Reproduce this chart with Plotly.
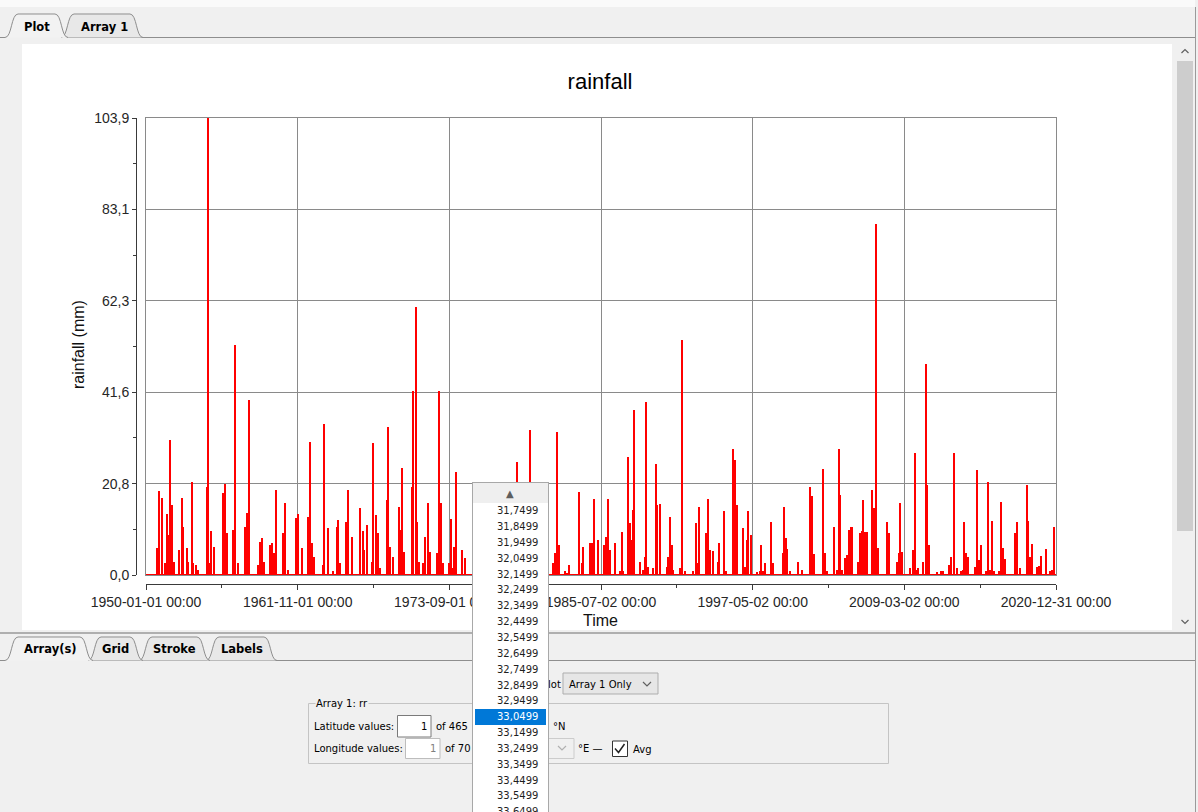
import pandas as pd
import plotly.graph_objects as go

# ---------------------------------------------------------------
# Daily rainfall peaks (decimal year, mm) for the selected grid cell
# ---------------------------------------------------------------
peak_year = [
    1950.83, 1951.01, 1951.22, 1951.48, 1951.62, 1951.74, 1951.87, 1952.03, 1952.18, 1952.60,
    1952.79, 1952.91, 1953.18, 1953.30, 1953.59, 1953.69, 1953.90, 1954.08, 1954.74, 1954.81,
    1954.99, 1955.07, 1955.31, 1956.03, 1956.19, 1956.34, 1956.81, 1956.97, 1957.20, 1957.72,
    1957.86, 1958.01, 1958.76, 1958.89, 1959.05, 1959.21, 1959.67, 1959.83, 1959.99, 1960.12,
    1960.67, 1960.85, 1961.10, 1961.70, 1961.88, 1962.15, 1962.66, 1962.80, 1962.93, 1963.11,
    1963.79, 1963.91, 1964.18, 1964.61, 1964.88, 1965.00, 1965.14, 1965.60, 1965.76, 1966.10,
    1966.70, 1966.91, 1967.01, 1967.22, 1967.61, 1967.73, 1967.95, 1968.12, 1968.26, 1968.78,
    1968.90, 1969.04, 1969.25, 1969.76, 1969.90, 1970.00, 1970.15, 1970.73, 1970.86, 1971.04,
    1971.12, 1971.32, 1971.64, 1971.79, 1972.03, 1972.16, 1972.68, 1972.89, 1972.99, 1973.15,
    1973.62, 1973.77, 1973.93, 1974.05, 1974.19, 1974.66, 1974.89, 1975.75, 1976.21, 1976.84,
    1977.39, 1977.85, 1978.40, 1978.97, 1979.34, 1979.98, 1980.35, 1980.90, 1981.78, 1981.91,
    1982.09, 1982.25, 1982.69, 1982.82, 1983.03, 1983.81, 1983.99, 1984.12, 1984.64, 1984.77,
    1984.98, 1985.27, 1985.73, 1985.89, 1986.07, 1986.20, 1986.62, 1986.98, 1987.11, 1987.24,
    1987.63, 1987.76, 1987.90, 1987.97, 1988.05, 1988.54, 1988.75, 1988.91, 1989.03, 1989.19,
    1989.58, 1989.77, 1989.89, 1990.13, 1990.63, 1990.75, 1990.86, 1991.02, 1991.14, 1991.66,
    1991.84, 1992.05, 1992.70, 1992.89, 1993.01, 1993.12, 1993.69, 1993.85, 1994.00, 1994.21,
    1994.65, 1994.73, 1995.10, 1995.25, 1995.82, 1995.98, 1996.13, 1996.56, 1996.74, 1996.87,
    1996.97, 1997.18, 1997.65, 1997.91, 1998.01, 1998.16, 1998.32, 1998.79, 1998.94, 1999.68,
    1999.80, 1999.93, 2000.04, 2000.25, 2000.85, 2001.18, 2001.78, 2001.96, 2002.14, 2002.84,
    2002.98, 2003.16, 2003.68, 2003.89, 2004.05, 2004.17, 2004.33, 2004.56, 2004.72, 2004.85,
    2005.03, 2005.11, 2005.53, 2005.71, 2005.84, 2005.94, 2006.10, 2006.23, 2006.68, 2006.82,
    2006.98, 2007.14, 2007.84, 2007.99, 2008.57, 2008.73, 2008.85, 2008.98, 2009.61, 2009.87,
    2010.00, 2010.13, 2010.26, 2010.65, 2010.83, 2010.96, 2011.11, 2011.74, 2012.00, 2012.21,
    2012.68, 2012.81, 2013.07, 2013.25, 2013.56, 2013.72, 2013.85, 2013.98, 2014.16, 2014.68,
    2014.81, 2014.97, 2015.12, 2015.54, 2015.69, 2015.85, 2016.03, 2016.19, 2016.58, 2016.71,
    2016.84, 2017.02, 2017.82, 2017.98, 2018.19, 2018.71, 2018.84, 2019.00, 2019.15, 2019.49,
    2019.65, 2019.83, 2020.22, 2020.53, 2020.66, 2020.82,
]
peak_mm = [
    6.1, 19.0, 17.4, 2.7, 13.9, 9.1, 30.7, 15.9, 3.0, 5.7,
    17.4, 11.0, 6.1, 3.0, 21.2, 2.7, 2.3, 1.1, 20.1, 103.9,
    2.7, 9.9, 6.4, 18.6, 20.8, 9.5, 10.2, 52.2, 2.8, 11.0,
    14.0, 39.8, 2.3, 7.6, 8.3, 3.0, 6.8, 7.2, 4.9, 19.3,
    9.5, 16.3, 1.1, 12.9, 13.9, 6.1, 13.3, 30.3, 7.2, 4.2,
    2.3, 34.3, 10.6, 0.8, 11.0, 12.5, 2.7, 12.1, 19.3, 8.7,
    15.3, 9.9, 5.7, 11.4, 3.0, 29.9, 13.6, 9.5, 1.5, 17.0,
    33.6, 6.4, 4.2, 15.5, 10.2, 24.3, 5.3, 20.1, 41.8, 61.0,
    12.1, 3.0, 2.7, 8.7, 16.3, 5.3, 4.9, 41.8, 16.3, 2.7,
    2.7, 12.7, 1.5, 6.4, 23.4, 5.7, 3.8, 8.0, 12.0, 5.0,
    15.0, 3.0, 9.0, 25.8, 6.0, 33.0, 10.0, 4.0, 2.7, 4.9,
    32.4, 6.8, 0.8, 0.4, 2.3, 18.8, 2.7, 6.4, 7.2, 7.2,
    17.3, 8.0, 6.8, 8.7, 17.3, 5.7, 7.2, 0.8, 9.7, 0.8,
    26.8, 11.8, 8.0, 14.8, 37.5, 2.9, 1.1, 4.2, 39.4, 1.9,
    1.5, 25.2, 15.9, 16.1, 1.9, 4.2, 13.1, 6.8, 1.1, 1.5,
    53.4, 0.9, 0.8, 11.8, 2.7, 15.4, 9.5, 17.2, 5.7, 5.5,
    2.9, 7.2, 14.6, 1.0, 28.6, 26.2, 15.9, 10.8, 1.9, 8.0,
    14.6, 9.1, 0.6, 0.8, 6.8, 0.8, 2.7, 12.0, 2.7, 4.9,
    15.4, 8.3, 5.8, 0.9, 2.9, 1.1, 20.1, 18.0, 4.7, 24.0,
    5.1, 0.8, 11.0, 1.1, 28.6, 18.2, 1.1, 3.8, 4.5, 10.2,
    11.0, 11.0, 3.0, 9.6, 9.9, 17.1, 9.7, 9.7, 19.3, 15.2,
    79.8, 6.1, 12.1, 9.6, 3.0, 4.9, 16.3, 5.3, 1.5, 5.7,
    27.8, 1.1, 1.5, 3.0, 48.0, 20.5, 6.8, 0.6, 0.9, 0.8,
    2.3, 4.2, 27.7, 1.5, 0.8, 1.1, 12.0, 4.9, 4.2, 1.9,
    23.9, 3.4, 6.8, 0.8, 21.1, 1.1, 12.3, 0.8, 0.8, 16.5,
    6.1, 3.6, 9.6, 12.0, 1.5, 20.5, 12.3, 4.2, 7.0, 1.9,
    2.0, 4.4, 5.8, 0.8, 1.1, 11.0,
]

# time axis labels
time_ticks = ["1950-01-01", "1961-11-01", "1973-09-01", "1985-07-02",
              "1997-05-02", "2009-03-02", "2020-12-31"]
time_minor = ["1955-12-01", "1967-10-01", "1979-08-02", "1991-06-02",
              "2003-04-02", "2015-01-31"]

# latitude choices shown in the open selector
lat_options = ["31,7499", "31,8499", "31,9499", "32,0499", "32,1499", "32,2499",
               "32,3499", "32,4499", "32,5499", "32,6499", "32,7499", "32,8499",
               "32,9499", "33,0499", "33,1499", "33,2499", "33,3499", "33,4499",
               "33,5499", "33,6499"]
lat_selected = "33,0499"


def year_to_timestamp(y):
    yr = int(y)
    start = pd.Timestamp(year=yr, month=1, day=1)
    end = pd.Timestamp(year=yr + 1, month=1, day=1)
    return (start + (end - start) * (y - yr)).normalize()


peak_dates = [year_to_timestamp(y) for y in peak_year]

# value axis: five equal steps up to the series maximum, comma decimals
y_top = max(peak_mm)
y_tick_vals = [y_top * i / 5 for i in range(6)]
y_tick_text = [f"{v:.1f}".replace(".", ",") for v in y_tick_vals]
y_minor_vals = [y_top * (i + 0.5) / 5 for i in range(5)]
time_tick_text = [t + " 00:00" for t in time_ticks]

# ---------------------------------------------------------------
# page geometry in pixels -> paper coordinates
# ---------------------------------------------------------------
FIG_W, FIG_H = 1198, 812
M_L, M_R, M_T, M_B = 136, 142, 118, 228
AREA_W = FIG_W - M_L - M_R
AREA_H = FIG_H - M_T - M_B


def fx(px):
    return (px - M_L) / AREA_W


def fy(py):
    return (FIG_H - M_B - py) / AREA_H


def P(x, y):
    return f"{fx(x):.5f},{fy(y):.5f}"


shapes = []
annotations = []
GUI_FONT = "DejaVu Sans"
CHART_FONT = "Liberation Sans"


def rect(x0, y0, x1, y1, fill=None, line=None, lw=1, layer="above"):
    shapes.append(dict(type="rect", xref="paper", yref="paper",
                       x0=fx(x0), x1=fx(x1), y0=fy(y1), y1=fy(y0),
                       fillcolor=fill or "rgba(0,0,0,0)",
                       line=dict(color=line or "rgba(0,0,0,0)", width=lw if line else 0),
                       layer=layer))


def seg(x0, y0, x1, y1, color, lw=1):
    shapes.append(dict(type="line", xref="paper", yref="paper",
                       x0=fx(x0), y0=fy(y0), x1=fx(x1), y1=fy(y1),
                       line=dict(color=color, width=lw), layer="above"))


def poly(points, color, lw=1.2):
    d = "M " + " L ".join(P(x, y) for x, y in points)
    shapes.append(dict(type="path", xref="paper", yref="paper", path=d,
                       line=dict(color=color, width=lw), layer="above"))


def tab(x0, x1, ytop, ybot, fill, line="#8e8e8e"):
    d = (f"M {P(x0, ybot)} C {P(x0 + 7, ybot)} {P(x0 + 6, ytop)} {P(x0 + 13, ytop)} "
         f"L {P(x1 - 13, ytop)} C {P(x1 - 6, ytop)} {P(x1 - 7, ybot)} {P(x1, ybot)}")
    shapes.append(dict(type="path", xref="paper", yref="paper", path=d,
                       fillcolor=fill, line=dict(color=line, width=1), layer="above"))


def label(x, y, text, size=10, color="#000000", anchor="left", bold=False,
          bg=None, family=GUI_FONT, angle=0):
    ann = dict(xref="paper", yref="paper", x=fx(x), y=fy(y),
               text=f"<b>{text}</b>" if bold else text, showarrow=False,
               xanchor=anchor, yanchor="middle", textangle=angle, borderpad=0,
               font=dict(family=family, size=size, color=color))
    if bg:
        ann["bgcolor"] = bg
    annotations.append(ann)


def panel(x0, y0, x1, y1, fill, border=None):
    bw = 1 if border else 0
    annotations.append(dict(xref="paper", yref="paper", x=fx(x0), y=fy(y0),
                            xanchor="left", yanchor="top", text=" ", showarrow=False,
                            width=x1 - x0 - 2 * bw, height=y1 - y0 - 2 * bw,
                            bgcolor=fill, bordercolor=border or "rgba(0,0,0,0)",
                            borderwidth=bw, borderpad=0))


# ---- window chrome: top tab strip ----
rect(0, 0, 1195, 7, fill="#fafafa")
seg(1195.5, 7, 1195.5, 812, "#9a9a9a")
seg(0, 37.5, 5, 37.5, "#8e8e8e")
seg(67, 37.5, 1195, 37.5, "#8e8e8e")
tab(61, 143, 14, 37.5, "#e8e8e8")
tab(5, 68, 14, 37.5, "#f2f2f2")
label(37, 26.5, "Plot", size=11.5, bold=True, anchor="center")
label(104, 26.5, "Array 1", size=11.5, bold=True, anchor="center")

# plot panel and its scrollbar
rect(22, 44, 1172, 630, fill="#ffffff", layer="below")
rect(1176, 44, 1194, 630, fill="#f0f0f0")
rect(1177, 61, 1193, 531, fill="#cdcdcd")
poly([(1181.5, 53), (1185, 49.5), (1188.5, 53)], "#606060")
poly([(1181.5, 620), (1185, 623.5), (1188.5, 620)], "#606060")

# ---- lower settings pane ----
seg(0, 633, 1195, 633, "#9a9a9a", 1.5)
seg(0, 660.5, 5, 660.5, "#8e8e8e")
seg(92, 660.5, 1195, 660.5, "#8e8e8e")
tab(206, 277, 637, 660.5, "#e8e8e8")
tab(139, 210, 637, 660.5, "#e8e8e8")
tab(88, 143, 637, 660.5, "#e8e8e8")
tab(5, 93, 637, 660.5, "#f2f2f2")
label(50, 649, "Array(s)", size=11.5, bold=True, anchor="center")
label(115.5, 649, "Grid", size=11.5, bold=True, anchor="center")
label(174.5, 649, "Stroke", size=11.5, bold=True, anchor="center")
label(241.5, 649, "Labels", size=11.5, bold=True, anchor="center")

# plot-mode combo
label(561.5, 684, "Plot", anchor="right")
rect(563, 673, 658, 694, fill="#e6e6e6", line="#adadad")
label(568, 684, "Array 1 Only")
poly([(643, 682), (647, 686), (651, 682)], "#606060")

# array group box
rect(308.5, 703.5, 888.5, 763.5, line="#c4c4c4")
label(315, 704, "Array 1: rr", bg="#f0f0f0")
label(313, 726.5, "Latitude values:")
rect(397.5, 715.5, 431, 737, fill="#ffffff", line="#7a7a7a")
label(428, 726.5, "1", anchor="right")
label(435, 726.5, "of 465")
label(313, 748.5, "Longitude values:")
rect(405.5, 738.5, 440, 758.5, fill="#ffffff", line="#bdbdbd")
label(437, 748.5, "1", anchor="right", color="#808080")
label(444, 748.5, "of 70")
rect(500, 738.5, 574, 758.5, fill="#f0f0f0", line="#cccccc")
poly([(558, 746), (562, 750), (566, 746)], "#b0b0b0")
label(552, 726.5, "°N")
label(577, 748.5, "°E —")
rect(612.5, 741, 627.5, 756.5, fill="#ffffff", line="#333333")
poly([(615, 748.5), (618.5, 752.5), (624.5, 744)], "#222222", 1.5)
label(632, 749, "Avg")

# ---- chart titles ----
label(78, 345, "rainfall (mm)", size=16, family=CHART_FONT, anchor="center",
      angle=-90, color="#111111")
label(600, 620, "Time", size=16, family=CHART_FONT, anchor="center", color="#111111")

# ---- open latitude selector ----
panel(471.5, 482, 548.5, 840, "#ffffff", "#a8a8a8")
panel(472.5, 483, 547.5, 503, "#efefef")
label(509.5, 493.5, "▲", size=10, color="#5e5e5e", anchor="center")
panel(474.5, 708.5, 545.5, 724.5, "#0078d7")
for i, v in enumerate(lat_options):
    label(538.5, 510.7 + i * 15.85, v, size=10,
          color="#ffffff" if v == lat_selected else "#1e1e1e", anchor="right")

# ---------------------------------------------------------------
# traces
# ---------------------------------------------------------------
fig = go.Figure()
fig.add_trace(go.Bar(
    x=peak_dates, y=peak_mm, width=33 * 86400000,
    marker=dict(color="#ff0000", line=dict(width=0)),
    showlegend=False, hovertemplate="%{x|%Y-%m-%d}: %{y} mm<extra></extra>",
))
# zero baseline of the daily series, on the outer (labelled) axes
fig.add_trace(go.Scatter(
    x=[time_ticks[0], time_ticks[-1]], y=[0, 0], xaxis="x2", yaxis="y2",
    mode="lines", line=dict(color="#ff0000", width=2),
    showlegend=False, hoverinfo="skip",
))

GRID = "#8a8a8a"
AXIS = "#3a3a3a"
TICKFONT = dict(family=CHART_FONT, size=14, color="#262626")
x_dom = [fx(146), 1]
y_dom = [fy(575), 1]

fig.update_layout(
    width=FIG_W, height=FIG_H,
    margin=dict(l=M_L, r=M_R, t=M_T, b=M_B, pad=0),
    paper_bgcolor="#f0f0f0", plot_bgcolor="#ffffff",
    bargap=0, showlegend=False,
    title=dict(text="rainfall", x=600 / FIG_W, xref="container", xanchor="center",
               y=1 - 81 / FIG_H, yref="container", yanchor="middle",
               font=dict(family=CHART_FONT, size=22, color="#000000")),
    xaxis=dict(type="date", range=[time_ticks[0], time_ticks[-1]], domain=x_dom,
               tickmode="array", tickvals=time_ticks, showticklabels=False, ticks="",
               showgrid=True, gridcolor=GRID, gridwidth=1,
               showline=True, mirror=True, linecolor=GRID, linewidth=1,
               zeroline=False, fixedrange=True),
    yaxis=dict(range=[0, y_top], domain=y_dom, tickmode="array", tickvals=y_tick_vals,
               showticklabels=False, ticks="", showgrid=True, gridcolor=GRID, gridwidth=1,
               showline=True, mirror=True, linecolor=GRID, linewidth=1,
               zeroline=False, fixedrange=True),
    xaxis2=dict(type="date", overlaying="x", anchor="free", position=0,
                range=[time_ticks[0], time_ticks[-1]], domain=x_dom,
                tickmode="array", tickvals=time_ticks, ticktext=time_tick_text,
                ticks="outside", ticklen=5, tickwidth=1, tickcolor=AXIS,
                showline=True, linecolor=AXIS, linewidth=1,
                showgrid=False, zeroline=False, tickfont=TICKFONT, tickangle=0,
                minor=dict(tickmode="array", tickvals=time_minor, ticks="outside",
                           ticklen=3, tickcolor=AXIS, showgrid=False),
                fixedrange=True),
    yaxis2=dict(overlaying="y", anchor="free", position=0, range=[0, y_top], domain=y_dom,
                tickmode="array", tickvals=y_tick_vals, ticktext=y_tick_text,
                ticks="outside", ticklen=4, tickwidth=1, tickcolor=AXIS,
                showline=True, linecolor=AXIS, linewidth=1,
                showgrid=False, zeroline=False, tickfont=TICKFONT,
                minor=dict(tickmode="array", tickvals=y_minor_vals, ticks="outside",
                           ticklen=3, tickcolor=AXIS, showgrid=False),
                fixedrange=True),
    shapes=shapes,
    annotations=annotations,
)

fig.write_html("out.html")
